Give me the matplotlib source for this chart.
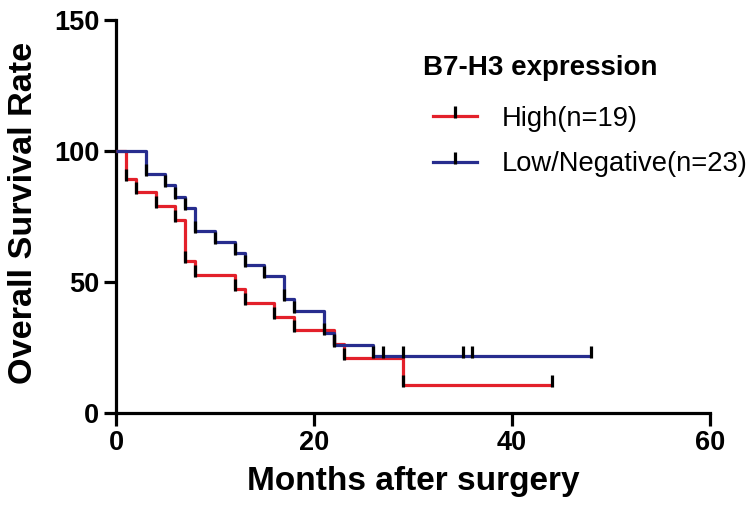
import matplotlib
matplotlib.use("Agg")
import matplotlib.pyplot as plt
from matplotlib.path import Path
from matplotlib.lines import Line2D

plt.rcParams['font.family'] = ['Liberation Sans', 'DejaVu Sans']

# Kaplan-Meier data
high_times = [0, 1, 2, 4, 6, 7, 8, 12, 13, 16, 18, 22, 23, 29]
high_surv = [100, 89.5, 84.2, 78.9, 73.7, 57.9, 52.6, 47.4, 42.1, 36.8, 31.6, 26.3, 21.1, 10.5]
high_end = 44
high_censored = [44]

low_times = [0, 3, 5, 6, 7, 8, 10, 12, 13, 15, 17, 18, 21, 22, 26]
low_surv = [100, 91.3, 87.0, 82.6, 78.3, 69.6, 65.2, 60.9, 56.5, 52.2, 43.5, 39.1, 30.4, 26.1, 21.7]
low_end = 48
low_censored = [27, 29, 35, 36, 48]

x_ticks = [0, 20, 40, 60]
y_ticks = [0, 50, 100, 150]

red = '#e3202a'
blue = '#272d8e'
lw = 2.3

# tick mark that sticks up from the curve (like Prism)
tick = Path([(0, -0.2), (0, 1)], [Path.MOVETO, Path.LINETO])

fig = plt.figure(figsize=(7.56, 5.17), dpi=100)
ax = fig.add_axes([0.1534, 0.2012, 0.7858, 0.7601])

for times, surv, end, col in [(high_times, high_surv, high_end, red),
                              (low_times, low_surv, low_end, blue)]:
    ax.step(times + [end], surv + [surv[-1]], where='post', color=col, lw=lw,
            solid_capstyle='butt', clip_on=False, zorder=3)

for times, surv, cens in [(high_times, high_surv, high_censored),
                          (low_times, low_surv, low_censored)]:
    ax.plot(times[1:], surv[1:], ls='none', marker=tick, ms=14.4, mec='k', mew=2.3,
            clip_on=False, zorder=4)
    ax.plot(cens, [surv[-1]] * len(cens), ls='none', marker=tick, ms=14.4, mec='k',
            mew=2.3, clip_on=False, zorder=4)

ax.set_xlim(0, 60)
ax.set_ylim(0, 150)
ax.set_xticks(x_ticks)
ax.set_yticks(y_ticks)
for s in ['top', 'right']:
    ax.spines[s].set_visible(False)
for s in ['left', 'bottom']:
    ax.spines[s].set_linewidth(2.3)
ax.tick_params(width=2.3, length=9, labelsize=19.5, pad=3)
for lab in ax.get_xticklabels() + ax.get_yticklabels():
    lab.set_fontweight('bold')

ax.set_xlabel('Months after surgery', fontsize=24, fontweight='bold')
ax.set_ylabel('Overall Survival Rate', fontsize=24.7, fontweight='bold')
ax.xaxis.set_label_coords(0.5, -0.135)
ax.yaxis.set_label_coords(-0.13, 0.51)

ax.text(0.517, 0.86, 'B7-H3 expression', transform=ax.transAxes, fontsize=20,
        fontweight='bold', va='baseline', ha='left')
handles = [Line2D([0], [0], color=red, lw=lw, marker=tick, ms=14.4, mec='k', mew=2.3),
           Line2D([0], [0], color=blue, lw=lw, marker=tick, ms=14.4, mec='k', mew=2.3)]
ax.legend(handles, ['High(n=19)', 'Low/Negative(n=23)'], loc='upper left',
          bbox_to_anchor=(0.534, 0.782), frameon=False, fontsize=19.7, borderpad=0,
          borderaxespad=0, handlelength=1.6, handletextpad=0.9, labelspacing=0.72,
          numpoints=1)

fig.savefig('out.png', dpi=100)
